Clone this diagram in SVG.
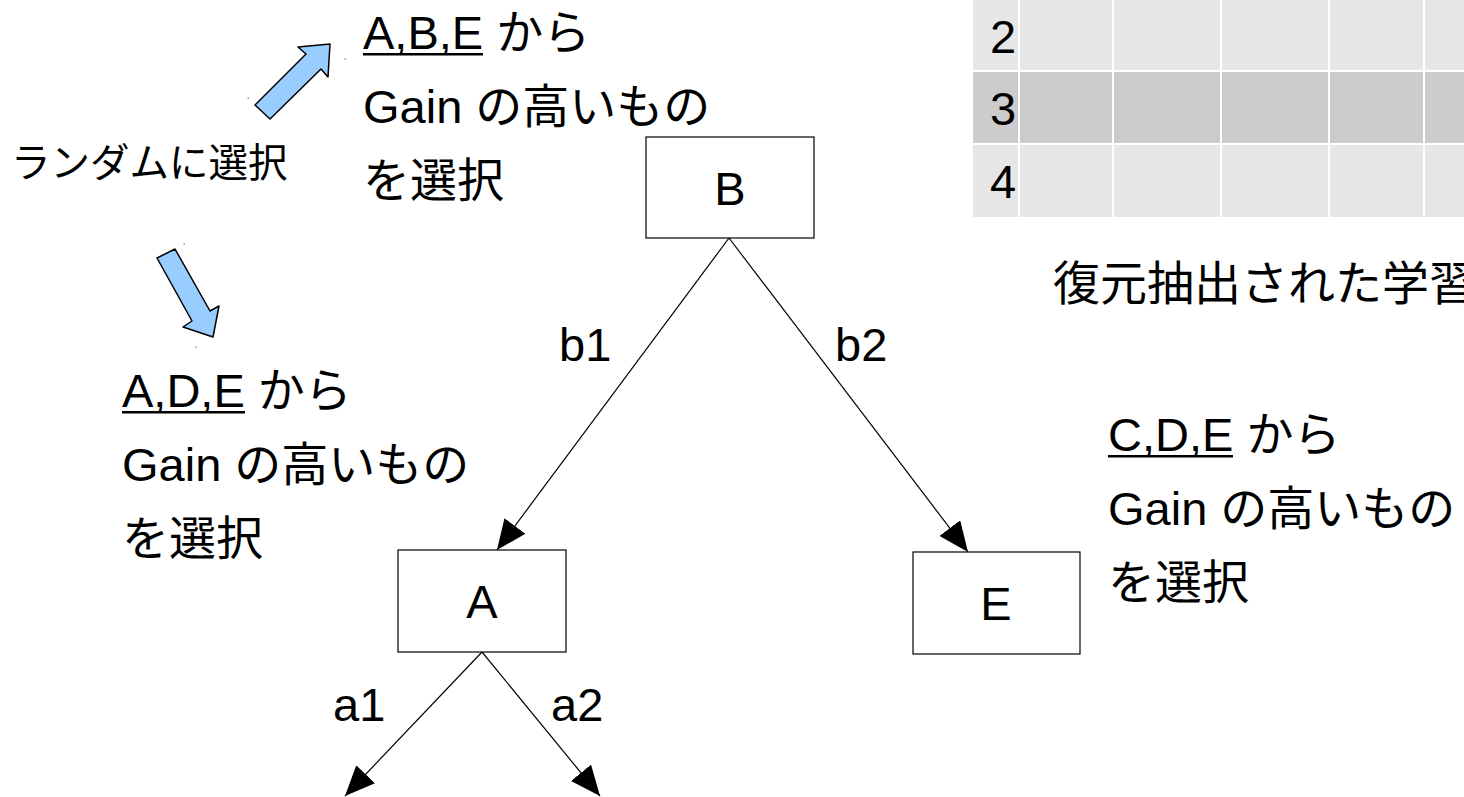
<svg xmlns="http://www.w3.org/2000/svg" width="1464" height="797" viewBox="0 0 1464 797">
  <defs>
    <style>
      .t { font-family: "Liberation Sans", "Noto Sans CJK JP", sans-serif; font-size: 47px; fill: #000; }
      .s { font-family: "Liberation Sans", "Noto Sans CJK JP", sans-serif; font-size: 39.5px; fill: #000; }
      .ul { fill: #000; }
      .box { fill: #fff; stroke: #000; stroke-width: 1.2; }
      .edge { stroke: #000; stroke-width: 1.2; fill: none; marker-end: url(#head); }
      .blk { fill: #99ccff; stroke: #000; stroke-width: 1.5; stroke-linejoin: round; }
      .light { fill: #e6e6e6; }
      .dark { fill: #cccccc; }
      .dot { fill: #999; }
    </style>
    <marker id="head" viewBox="0 0 30 26" refX="30" refY="13" markerWidth="30" markerHeight="26" markerUnits="userSpaceOnUse" orient="auto">
      <path d="M0,0 L30,13 L0,26 z" fill="#000"/>
    </marker>
  </defs>

  <rect width="1464" height="797" fill="#fff"/>

  <!-- sample table (rows 2-4) -->
  <g id="table">
    <g class="light">
      <rect x="973" y="-10" width="45" height="80"/>
      <rect x="1020" y="-10" width="92" height="80"/>
      <rect x="1114" y="-10" width="106" height="80"/>
      <rect x="1222" y="-10" width="106" height="80"/>
      <rect x="1330" y="-10" width="93" height="80"/>
      <rect x="1425" y="-10" width="50" height="80"/>
    </g>
    <g class="dark">
      <rect x="973" y="72" width="45" height="71"/>
      <rect x="1020" y="72" width="92" height="71"/>
      <rect x="1114" y="72" width="106" height="71"/>
      <rect x="1222" y="72" width="106" height="71"/>
      <rect x="1330" y="72" width="93" height="71"/>
      <rect x="1425" y="72" width="50" height="71"/>
    </g>
    <g class="light">
      <rect x="973" y="145" width="45" height="72"/>
      <rect x="1020" y="145" width="92" height="72"/>
      <rect x="1114" y="145" width="106" height="72"/>
      <rect x="1222" y="145" width="106" height="72"/>
      <rect x="1330" y="145" width="93" height="72"/>
      <rect x="1425" y="145" width="50" height="72"/>
    </g>
    <text class="t" x="990" y="53">2</text>
    <text class="t" x="990" y="125">3</text>
    <text class="t" x="990" y="198">4</text>
  </g>

  <text id="caption" class="t" x="1053" y="300">復元抽出された学習</text>

  <!-- selection notes; the attribute lists are underlined -->
  <g id="note-root">
    <text class="t" x="363" y="49">A,B,E から</text>
    <rect class="ul" x="363" y="53" width="120" height="2.5"/>
    <text class="t" x="363" y="123">Gain の高いもの</text>
    <text class="t" x="363" y="197">を選択</text>
  </g>
  <g id="note-left">
    <text class="t" x="122" y="407">A,D,E から</text>
    <rect class="ul" x="122" y="411" width="123" height="2.5"/>
    <text class="t" x="122" y="481">Gain の高いもの</text>
    <text class="t" x="122" y="555">を選択</text>
  </g>
  <g id="note-right">
    <text class="t" x="1108" y="451">C,D,E から</text>
    <rect class="ul" x="1108" y="455" width="125" height="2.5"/>
    <text class="t" x="1108" y="525">Gain の高いもの</text>
    <text class="t" x="1108" y="599">を選択</text>
  </g>
  <text id="random-label" class="s" x="11" y="177">ランダムに選択</text>

  <!-- block arrows -->
  <g id="arrow-up">
    <polygon class="blk" points="255,105 306,54 298,47 330,44 328,77 321,69 270,119"/>
    <rect class="dot" x="247.5" y="97.5" width="1.5" height="1.5"/>
    <rect class="dot" x="344.5" y="58.5" width="1.5" height="1.5"/>
  </g>
  <g id="arrow-down">
    <polygon class="blk" points="157,258 175,249 210,311 219,306 213,337 183,327 192,321"/>
    <rect class="dot" x="183.5" y="243.5" width="1.5" height="1.5"/>
    <rect class="dot" x="195.5" y="346.5" width="1.5" height="1.5"/>
  </g>

  <!-- connectors -->
  <g id="edges">
    <line class="edge" x1="729" y1="238" x2="497" y2="550"/>
    <line class="edge" x1="729" y1="238" x2="968" y2="552"/>
    <line class="edge" x1="482" y1="652" x2="345" y2="796"/>
    <line class="edge" x1="482" y1="652" x2="600" y2="796"/>
    <text class="t" x="559" y="361">b1</text>
    <text class="t" x="835" y="361">b2</text>
    <text class="t" x="333" y="721">a1</text>
    <text class="t" x="551" y="721">a2</text>
  </g>

  <!-- tree nodes -->
  <g id="node-B">
    <rect class="box" x="646" y="137" width="168" height="101"/>
    <text class="t" x="730" y="205" text-anchor="middle">B</text>
  </g>
  <g id="node-A">
    <rect class="box" x="398" y="550" width="168" height="102"/>
    <text class="t" x="482" y="618" text-anchor="middle">A</text>
  </g>
  <g id="node-E">
    <rect class="box" x="913" y="552" width="167" height="102"/>
    <text class="t" x="996" y="620" text-anchor="middle">E</text>
  </g>
</svg>
